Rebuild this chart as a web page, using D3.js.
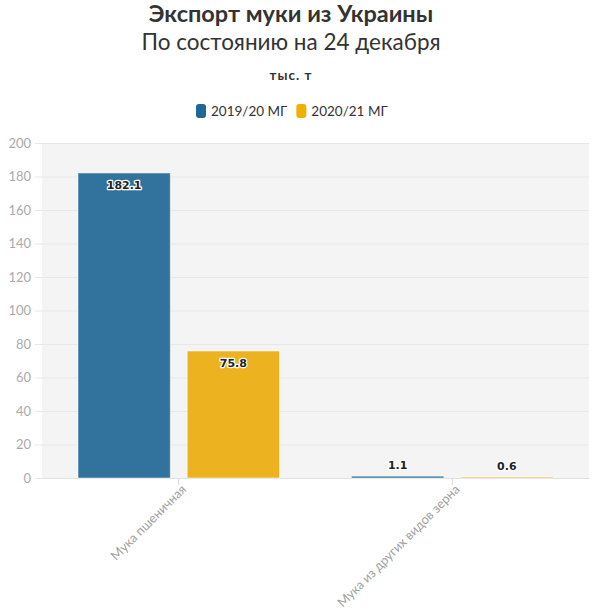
<!DOCTYPE html>
<html>
<head>
<meta charset="utf-8">
<script src="https://cdn.jsdelivr.net/npm/d3@7"></script>
<style>
  body { margin: 0; background: #fff; }
  svg { display: block; font-family: Lato, "Noto Sans", sans-serif; }
</style>
</head>
<body>
<svg id="chart"></svg>
<script>
// data
const categories = ['Мука пшеничная', 'Мука из других видов зерна'];
const seriesNames = ['2019/20 МГ', '2020/21 МГ'];
const values2019 = [182.1, 1.1];
const values2020 = [75.8, 0.6];
const yTicks = [0, 20, 40, 60, 80, 100, 120, 140, 160, 180, 200];

const barColors = ['#31739d', '#ecb220'];
const legendColors = ['#1d6896', '#f0b000'];

const W = 600, H = 614;
const margin = { top: 143, right: 11, bottom: 136, left: 42 };
const width = W - margin.left - margin.right;
const height = H - margin.top - margin.bottom;

const svg = d3.select('#chart').attr('width', W).attr('height', H);

// titles
svg.append('text').attr('x', 291).attr('y', 22)
  .attr('text-anchor', 'middle').attr('font-size', 23.5).attr('font-weight', 700)
  .attr('fill', '#333').text('Экспорт муки из Украины');
svg.append('text').attr('x', 291).attr('y', 50)
  .attr('text-anchor', 'middle').attr('font-size', 22.5)
  .attr('fill', '#333').text('По состоянию на 24 декабря');
svg.append('text').attr('x', 291).attr('y', 80)
  .attr('text-anchor', 'middle').attr('font-size', 13.5).attr('font-weight', 700)
  .attr('letter-spacing', 1).attr('fill', '#333').text('тыс. т');

// legend
const legend = svg.append('g').attr('transform', 'translate(196, 104)');
let lx = 0;
seriesNames.forEach((name, i) => {
  const item = legend.append('g').attr('transform', `translate(${lx}, 0)`);
  item.append('rect').attr('width', 10).attr('height', 14).attr('rx', 3)
    .attr('fill', legendColors[i]);
  const t = item.append('text').attr('x', 15).attr('y', 12)
    .attr('font-size', 13.5).attr('fill', '#333').text(name);
  lx += 15 + t.node().getComputedTextLength() + 9;
});

const g = svg.append('g')
  .attr('transform', `translate(${margin.left}, ${margin.top})`);

g.append('rect').attr('class', 'chart-bg')
  .attr('width', width).attr('height', height).style('fill', '#f4f4f4');

const x = d3.scaleBand().domain(categories).range([0, width]);
const xSub = d3.scaleBand().domain(seriesNames)
  .range([36, x.bandwidth() - 36]).paddingInner(0.155);
const y = d3.scaleLinear().domain([0, 200]).range([height, 0]);

// grid
const grid = g.append('g').attr('class', 'grid--y')
  .call(d3.axisLeft(y).tickValues(yTicks).tickSize(-width).tickFormat(''));
grid.select('.domain').remove();
grid.selectAll('line').attr('stroke', '#e8e8e8');

// y axis
const yAxis = g.append('g').attr('class', 'axis--y')
  .call(d3.axisLeft(y).tickValues(yTicks).tickSize(7).tickPadding(4));
yAxis.select('.domain').remove();
yAxis.selectAll('line').attr('stroke', '#e8e8e8');
yAxis.selectAll('text').attr('font-size', 13).attr('fill', '#aaa')
  .attr('font-family', 'Lato, sans-serif');

// x axis
const xAxis = g.append('g').attr('class', 'axis--x')
  .attr('transform', `translate(0, ${height})`)
  .call(d3.axisBottom(x).tickSize(7).tickSizeOuter(0).tickFormat(''));
xAxis.select('.domain').attr('stroke', '#e0e0e0');
xAxis.selectAll('line').attr('stroke', '#d8d8d8');
xAxis.selectAll('.tick').append('text')
  .attr('transform', 'translate(5, 9) rotate(-45)')
  .attr('text-anchor', 'end').attr('dy', '0.35em')
  .attr('font-size', 12.8).attr('fill', '#a0a0a0')
  .attr('font-family', 'Lato, sans-serif')
  .text(d => d);

// bars
const rows = categories.map((c, i) => ({
  cat: c,
  vals: [
    { s: seriesNames[0], v: values2019[i], k: 0 },
    { s: seriesNames[1], v: values2020[i], k: 1 }
  ]
}));

const groups = g.selectAll('.cat').data(rows).join('g')
  .attr('class', 'cat')
  .attr('transform', d => `translate(${x(d.cat)}, 0)`);

groups.selectAll('rect').data(d => d.vals).join('rect')
  .attr('x', d => xSub(d.s))
  .attr('width', xSub.bandwidth())
  .attr('y', d => y(d.v))
  .attr('height', d => Math.max(1, height - y(d.v)))
  .attr('fill', d => barColors[d.k])
  .attr('stroke', 'rgba(255,255,255,0.5)')
  .attr('stroke-width', 1);

groups.selectAll('text.lbl').data(d => d.vals).join('text')
  .attr('class', 'lbl')
  .attr('x', d => xSub(d.s) + xSub.bandwidth() / 2)
  .attr('y', d => (height - y(d.v) > 25) ? y(d.v) + 16 : y(d.v) - 7)
  .attr('text-anchor', 'middle')
  .attr('font-family', '"DejaVu Sans", sans-serif')
  .attr('font-size', 11).attr('font-weight', 700)
  .attr('fill', '#222')
  .attr('stroke', '#fff').attr('stroke-width', 2.5)
  .attr('stroke-linejoin', 'round')
  .attr('paint-order', 'stroke')
  .text(d => d.v.toFixed(1));
</script>
</body>
</html>
